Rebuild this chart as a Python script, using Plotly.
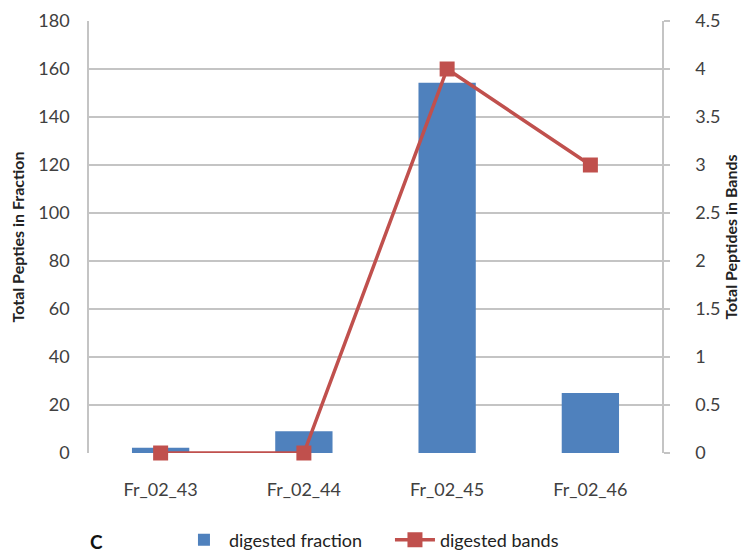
import plotly.graph_objects as go

categories = ["Fr_02_43", "Fr_02_44", "Fr_02_45", "Fr_02_46"]
fraction_values = [2.2, 9.1, 154.3, 25.0]
band_values = [0, 0, 4, 3]
left_ticks = list(range(0, 181, 20))
right_ticks = [0, 0.5, 1, 1.5, 2, 2.5, 3, 3.5, 4, 4.5]
right_tick_text = ["0", "0.5", "1", "1.5", "2", "2.5", "3", "3.5", "4", "4.5"]

FONT = "Lato"
GRID = "#c4c4c4"
TXT = "#404040"

# page has an 8px body margin: compensate so the plot area lands near x 89-662, y 13-452
W, H = 742, 548
L, R, T, B = 81, 88, 13, 103
PW, PH = W - L - R, H - T - B

fig = go.Figure()
fig.add_trace(go.Bar(
    x=categories, y=fraction_values, name="digested fraction",
    marker=dict(color="#4f81bd", line=dict(width=0)),
))
fig.add_trace(go.Scatter(
    x=categories, y=band_values, name="digested bands", yaxis="y2",
    mode="lines+markers",
    line=dict(color="#c0504d", width=3.5),
    marker=dict(symbol="square", size=15, color="#c0504d"),
    cliponaxis=False,
))

fig.update_layout(
    width=W, height=H,
    margin=dict(l=L, r=R, t=T, b=B),
    paper_bgcolor="white", plot_bgcolor="white",
    font=dict(family=FONT, size=18, color=TXT),
    bargap=0.6,
    showlegend=True,
    legend=dict(orientation="h", x=0.157, xanchor="left", xref="paper",
                y=1 - 532 / H, yanchor="middle", yref="container",
                font=dict(size=18, color="#222"), itemwidth=40,
                entrywidth=156, entrywidthmode="pixels", tracegroupgap=0),
    xaxis=dict(
        showgrid=False, showline=False, ticks="", automargin=False,
        tickfont=dict(size=18, color=TXT), ticklabelstandoff=24,
    ),
    yaxis=dict(
        range=[0, 180], tickvals=left_ticks, showgrid=True, gridcolor=GRID, gridwidth=1.5,
        showline=True, linecolor=GRID, linewidth=1.5, zeroline=False, automargin=False,
        ticks="", ticklabelstandoff=14, ticklabeloverflow="allow",
        tickfont=dict(size=18, color=TXT),
        title=dict(text="<b>Total Pepties in Fraction</b>", font=dict(size=16, color="#222"), standoff=20),
    ),
    yaxis2=dict(
        range=[0, 4.5], tickvals=right_ticks, ticktext=right_tick_text,
        overlaying="y", side="right", showgrid=False, automargin=False,
        showline=True, linecolor=GRID, linewidth=1.5, zeroline=False,
        ticks="outside", ticklen=6, tickcolor=GRID, tickwidth=1.5,
        ticklabelstandoff=22, ticklabeloverflow="allow",
        tickfont=dict(size=18, color=TXT),
        title=dict(text="<b>Total Peptides in Bands</b>", font=dict(size=16, color="#222"), standoff=6),
    ),
    annotations=[dict(text="<b>C</b>", x=(96 - 89) / PW, y=(452 - 540) / PH,
                      xref="paper", yref="paper", xanchor="center", yanchor="middle",
                      showarrow=False, font=dict(size=19, color="#111"))],
)

fig.write_html("out.html")
